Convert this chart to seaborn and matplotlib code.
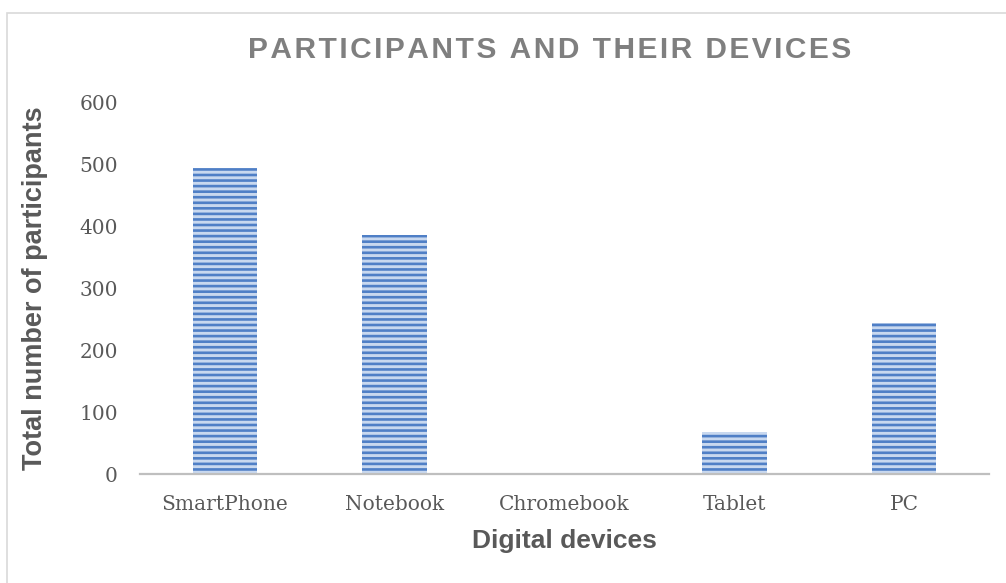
import matplotlib
matplotlib.use("Agg")
import matplotlib.pyplot as plt
from matplotlib.patches import Rectangle
import seaborn as sns
import pandas as pd

devices = ["SmartPhone", "Notebook", "Chromebook", "Tablet", "PC"]
participants = [495, 387, 2, 68, 244]
y_ticks = [0, 100, 200, 300, 400, 500, 600]

sns.set_theme(style="white")
plt.rcParams["hatch.linewidth"] = 1.9

df = pd.DataFrame({"device": devices, "count": participants})

fig = plt.figure(figsize=(10.06, 5.83), dpi=100)
ax = fig.add_axes([140 / 1006, 1 - 474 / 583, (989 - 140) / 1006, (474 - 103) / 583])

sns.barplot(data=df, x="device", y="count", ax=ax, width=0.38,
            color="#c8d8ef", saturation=1)
for bar in ax.patches:
    bar.set_hatch("---")
    bar.set_edgecolor("#4f7fc6")
    bar.set_linewidth(0)

ax.set_xlim(-0.5, 4.5)
ax.set_ylim(0, 600)
ax.set_yticks(y_ticks)
ax.set_yticklabels([str(v) for v in y_ticks])

for s in ["top", "right", "left"]:
    ax.spines[s].set_visible(False)
ax.spines["bottom"].set_color("#bfbfbf")
ax.spines["bottom"].set_linewidth(1.6)
ax.tick_params(axis="both", length=0, labelcolor="#595959")
ax.tick_params(axis="x", pad=15)
ax.tick_params(axis="y", pad=16)
for lab in ax.get_xticklabels() + ax.get_yticklabels():
    lab.set_fontfamily("DejaVu Serif")
    lab.set_fontsize(14.5)

ax.set_xlabel("Digital devices", fontsize=19, fontweight="bold",
              color="#595959", family="Liberation Sans", labelpad=11)
ax.set_ylabel("Total number of participants", fontsize=19.5, fontweight="bold",
              color="#595959", family="Liberation Sans")
ax.yaxis.set_label_coords(-92 / 849, 0.5)

title = "\u200a".join("PARTICIPANTS AND THEIR DEVICES")
fig.text(550 / 1006, 1 - 50 / 583, title, ha="center", va="center",
         fontsize=21.5, fontweight="bold", color="#7f7f7f",
         family=["Liberation Sans", "DejaVu Sans"])

fig.patches.append(Rectangle((7 / 1006, -0.1), 1.2, 1 - 13 / 583 + 0.1,
                             transform=fig.transFigure, fill=False,
                             edgecolor="#d9d9d9", linewidth=1.2))

fig.savefig("out.png", dpi=100, facecolor="white")
